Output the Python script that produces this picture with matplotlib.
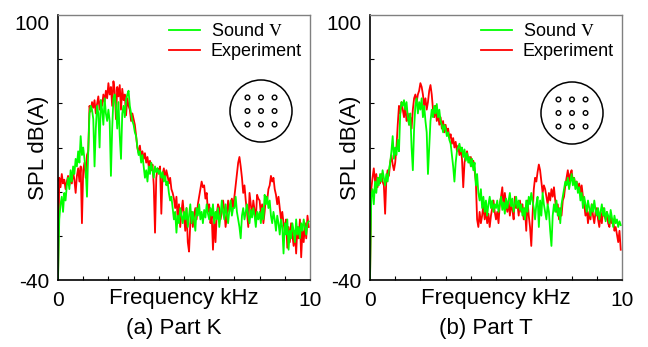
import numpy as np
import matplotlib.pyplot as plt
from matplotlib.patches import Circle

plt.rcParams['font.family'] = ['Liberation Sans', 'DejaVu Sans']
plt.rcParams['mathtext.fontset'] = 'stix'

# frequency axis, 0 .. 9.95 kHz in 0.05 kHz steps
freq = np.arange(200) * 0.05

# Part K, experiment (red)
k_exp = [
    -40, 14, 9, 16, 11, 13, 8, 12, 15, 10, 14, 11, 17, 13, 6, 15, 19, 12, 20, -10,
    18, 22, 14, 26, 28, 52, 49, 54, 51, 55, 48, 53, 57, 50, 55, 52, 58, 54, 60, 56,
    64, 58, 62, 52, 65, 60, 45, 62, 57, 63, 50, 61, 55, 58, 47, 56, 52, 50, 44, 48,
    45, 42, 36, 30, 27, 31, 25, 28, 24, 27, 22, 25, 20, 23, 18, 21, 10, -15, 14, 19,
    17, 20, -5, 16, 19, 13, 18, 15, 11, 14, 8, 6, 3, -2, 4, -8, 0, -12, -4, 2,
    -6, -14, -2, -20, -25, -10, -4, -12, -6, -2, -8, 0, 4, 8, 12, 9, 10, 3, 6, -4,
    0, -10, -6, -24, -8, -20, -5, 0, -2, -8, -4, 2, -3, -12, -6, 2, -4, 0, 3, -2,
    4, 10, 16, 22, 25, 20, 14, 6, 10, 2, -4, -12, 6, 0, -6, 2, -3, -8, 5, 3,
    2, -5, 0, -10, -4, 4, 2, 8, 10, 15, 12, 14, 8, 5, 0, 4, -2, -8, -4, -10,
    -14, -8, -23, -12, -20, -10, -16, -22, -14, -26, -12, -18, -8, -28, -14, -20, -10, -18, -6, -12,
]

# Part K, Sound V (green)
k_snd = [
    -40, -8, 0, 4, -4, 6, 2, 10, 14, 8, 18, 12, 20, 16, 24, 20, 28, 22, 36, 26,
    30, 24, 18, 4, 28, 48, 52, 50, 45, 20, 40, 52, 48, 30, 55, 50, 42, 56, 48, 44,
    50, 44, 15, 40, 56, 58, 52, 40, 54, 36, 24, 48, 52, 46, 55, 58, 60, 52, 48, 44,
    42, 38, 36, 30, 26, 28, 22, 26, 20, 14, 18, 12, 20, 16, 22, 18, 14, 20, 17, 19,
    16, 18, 14, 17, 12, 15, 10, 12, 6, 2, 4, -2, -8, -4, -15, -6, -10, -2, -6, -10,
    -4, -8, -2, -12, -6, 0, -10, -4, -8, -14, -2, -6, 0, -8, -4, -10, -3, -7, 0, -5,
    -8, -2, -6, 0, -10, -4, -8, -2, -12, -6, 2, -4, -8, 0, -5, -10, -3, 2, -6, -2,
    -2, 4, -4, -8, -12, -18, -6, -2, -8, -4, 0, -6, -10, -3, -7, -2, -6, -12, -4, -8,
    -4, -10, -2, -8, 5, 0, 4, -2, 2, -6, -10, -4, -8, -14, -6, -10, -16, -8, -12, -26,
    -10, -16, -8, -24, -14, -18, -10, -14, -20, -8, -16, -12, -18, -10, -14, -8, -12, -16, -10, -9,
]

# Part T, experiment (red)
t_exp = [
    -40, 8, 14, 19, 12, 16, 9, 14, 11, 16, 12, 10, -5, 14, 18, 15, 22, 26, 21, 18,
    22, 30, 42, 52, 48, 54, 50, 46, 52, 44, 48, 42, 46, 40, 50, 56, 58, 54, 58, 60,
    64, 62, 58, 52, 56, 50, 54, 60, 63, 58, 50, 46, 52, 44, 48, 42, 46, 40, 44, 38,
    42, 38, 40, 35, 37, 32, 35, 30, 33, 28, 31, 26, 30, 24, 9, 22, 26, 28, 24, 22,
    25, 20, 23, 18, 12, -8, -12, -4, -10, -6, 0, -8, -3, -10, -5, -12, -6, -2, 2, -4,
    -8, -4, -10, 0, 4, 9, -2, 6, 0, -4, 2, -6, 0, -3, -8, 4, -2, 0, -6, 2,
    -4, 0, -8, -2, -14, 2, -6, -12, -22, -6, 8, 14, 12, 17, 21, 18, 12, 6, 10, 8,
    4, 0, 6, 2, 8, 4, 9, 2, -4, 0, -8, -2, -6, 2, 4, 10, 14, 18, 12, 16,
    18, 12, 14, 10, 12, 8, 11, 6, 10, 4, 0, -6, -2, -10, -4, -8, 0, -6, -10, -4,
    -2, -8, -12, -4, -10, -2, -6, -8, -4, -10, -12, -6, -10, -8, -14, -12, -16, -20, -14, -24,
]

# Part T, Sound V (green)
t_snd = [
    -40, 4, 8, 0, 12, 6, 14, 10, 16, 12, 18, 14, 10, 16, 12, 18, 22, 28, 36, 24,
    30, 26, 34, 28, 48, 54, 52, 55, 50, 54, 46, 42, 48, 30, 18, 40, 52, 56, 48, 54,
    50, 56, 46, 52, 44, 38, 16, 30, 44, 50, 46, 52, 48, 53, 46, 50, 44, 42, 38, 42,
    40, 36, 38, 34, 32, 26, 20, 12, 22, 28, 30, 32, 28, 30, 25, 29, 23, 27, 22, 25,
    20, 24, 18, 22, 10, 16, 6, 2, 8, -2, 4, -4, 2, -6, 0, 4, -2, 2, -4, 0,
    -2, 2, -4, 0, 4, -3, 1, -5, 3, -2, 2, 6, -1, 3, -4, 0, 4, -2, 2, -3,
    0, -6, -2, -8, 2, -4, 4, 0, 6, 2, -2, -8, 0, 4, -12, 2, -6, 6, 0, -4,
    -8, 0, -4, -14, -22, -6, 0, -4, 2, -6, -2, -10, 0, 4, 8, 12, 10, 14, 8, 12,
    16, 10, 14, 8, 12, 6, 9, 2, 6, -2, 4, 0, -4, 2, -2, -6, 0, -4, 2, -3,
    -6, -2, -8, -4, 0, -6, -2, -9, -4, -6, -10, -3, -7, -12, -6, -10, -8, -12, -9, -11,
]

panels = [("(a) Part K", k_snd, k_exp), ("(b) Part T", t_snd, t_exp)]

W, H = 648, 347
fig = plt.figure(figsize=(6.48, 3.47), dpi=100)

ax_left = [58, 370]
circ_centre = [(261, 111), (572, 113)]

for i, (title, snd, exp) in enumerate(panels):
    x0 = ax_left[i]
    ax = fig.add_axes([x0 / W, (H - 280) / H, 252 / W, 265 / H])
    red, = ax.plot(freq, exp, color='#ff0000', lw=1.3)
    green, = ax.plot(freq, snd, color='#00ff00', lw=1.3)
    ax.set_xlim(0, 10)
    ax.set_ylim(-40, 100)

    ax.set_xticks([0, 10])
    ax.set_xticklabels(['0', '10'])
    ax.set_xticks(np.arange(1, 10), minor=True)
    ax.set_yticks([-40, 100])
    ax.set_yticklabels(['-40', '100'])
    ax.set_yticks(-40 + 140 / 6 * np.arange(1, 6), minor=True)
    ax.tick_params(which='major', length=0, labelsize=15, pad=8)
    ax.tick_params(axis='y', which='major', pad=6)
    ax.tick_params(which='minor', direction='in', length=3, width=0.8)
    ax.get_yticklabels()[1].set_verticalalignment('top')

    for s in ['left', 'bottom']:
        ax.spines[s].set_color('black')
        ax.spines[s].set_linewidth(1.2)
    for s in ['top', 'right']:
        ax.spines[s].set_color('#808080')
        ax.spines[s].set_linewidth(1.0)

    ax.set_ylabel('SPL dB(A)', fontsize=16)
    ax.yaxis.set_label_coords(-0.035, 0.5)
    ax.text(0.5, -0.032, 'Frequency kHz', transform=ax.transAxes,
            ha='center', va='top', fontsize=16)
    ax.text(0.46, -0.142, title, transform=ax.transAxes,
            ha='center', va='top', fontsize=16)

    ax.legend([green, red], [r'Sound $\mathrm{V}$', 'Experiment'],
              loc='upper right', frameon=False, fontsize=13,
              handlelength=1.7, handletextpad=0.6, labelspacing=0.15,
              borderaxespad=0.2, bbox_to_anchor=(1.01, 1.01))

    # microphone layout sketch
    cx, cy = circ_centre[i]
    r = 33
    ins = fig.add_axes([(cx - r) / W, (H - cy - r) / H, 2 * r / W, 2 * r / H])
    ins.set_xlim(-1, 1)
    ins.set_ylim(-1, 1)
    ins.axis('off')
    ins.add_patch(Circle((0, 0), 0.94, fill=False, ec='black', lw=1.1))
    for gx in (-0.41, 0, 0.41):
        for gy in (-0.41, 0, 0.41):
            ins.add_patch(Circle((gx, gy), 0.07, fill=False, ec='black', lw=1.0))

fig.savefig('out.png', dpi=100)
